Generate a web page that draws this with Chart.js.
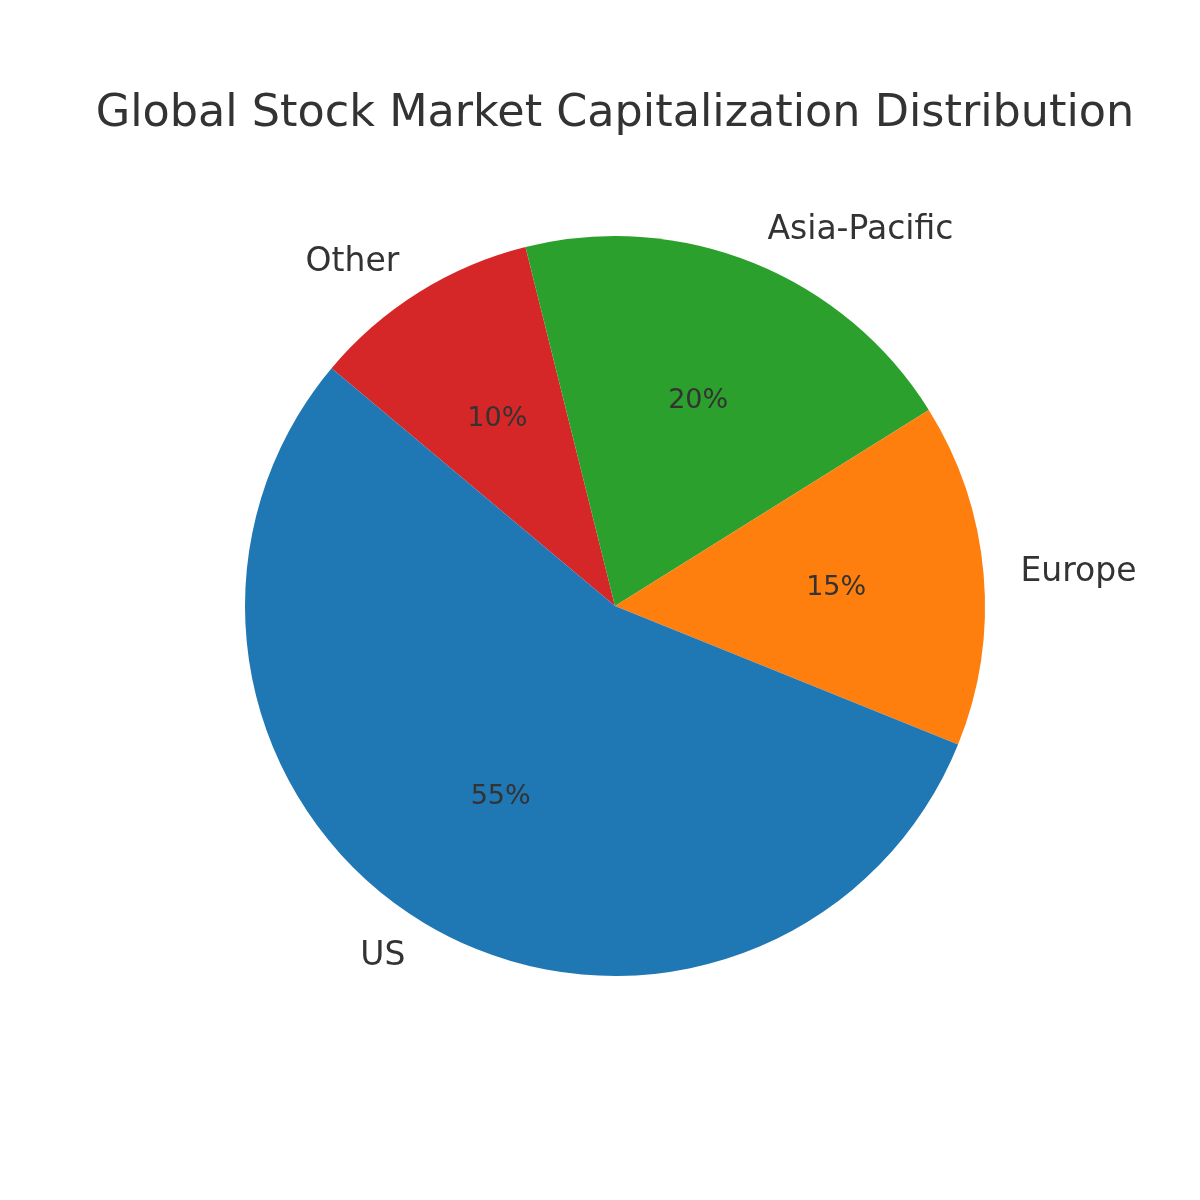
<!DOCTYPE html>
<html>
<head>
<meta charset="utf-8">
<script src="https://cdn.jsdelivr.net/npm/chart.js@4.4.1/dist/chart.umd.min.js"></script>
<style>
  html, body { margin: 0; padding: 0; background: #fff; }
  #wrap { width: 1200px; height: 1200px; }
</style>
</head>
<body>
<div id="wrap"><canvas id="pie"></canvas></div>
<script>
// slices in the order they are drawn (clockwise from the start angle)
const regions = ["Other", "Asia-Pacific", "Europe", "US"];
const shares = [10, 20, 15, 55];
const sliceColors = ["#d62728", "#2ca02c", "#ff7f0e", "#1f77b4"];
const chartTitle = "Global Stock Market Capitalization Distribution";

const FONT = "'DejaVu Sans', sans-serif";
const TEXT = "#333333";

// draws outer names, inner percents and the title like matplotlib's pie
const pieText = {
  id: "pieText",
  afterDraw(chart){
    const ctx = chart.ctx;
    const arcs = chart.getDatasetMeta(0).data;
    const total = shares.reduce((a, b) => a + b, 0);
    ctx.save();
    ctx.fillStyle = TEXT;
    ctx.textBaseline = "middle";
    arcs.forEach((arc, i) => {
      const p = arc.getProps(["x", "y", "startAngle", "endAngle", "outerRadius"], true);
      const mid = (p.startAngle + p.endAngle) / 2;
      const cx = Math.cos(mid), cy = Math.sin(mid);

      // name at 1.1 r
      const lx = p.x + cx * p.outerRadius * 1.1;
      const ly = p.y + cy * p.outerRadius * 1.1 + 2;
      ctx.font = "33px " + FONT;
      ctx.textAlign = cx >= 0 ? "left" : "right";
      ctx.fillText(regions[i], lx, ly);

      // percent at 0.6 r
      const px = p.x + cx * p.outerRadius * 0.6;
      const py = p.y + cy * p.outerRadius * 0.6 + 1;
      ctx.font = "27px " + FONT;
      ctx.textAlign = "center";
      ctx.fillText(Math.round(shares[i] / total * 100) + "%", px, py);
    });

    ctx.font = "44.5px " + FONT;
    ctx.textAlign = "center";
    ctx.fillText(chartTitle, 615, 114);
    ctx.restore();
  }
};

new Chart(document.getElementById("pie"), {
  type: "pie",
  data: {
    labels: regions,
    datasets: [{
      data: shares,
      backgroundColor: sliceColors,
      borderWidth: 0
    }]
  },
  options: {
    responsive: true,
    maintainAspectRatio: false,
    animation: false,
    rotation: -50,
    layout: { padding: { left: 245, right: 215, top: 236, bottom: 224 } },
    plugins: {
      legend: { display: false },
      tooltip: { enabled: false }
    }
  },
  plugins: [pieText]
});
</script>
</body>
</html>
